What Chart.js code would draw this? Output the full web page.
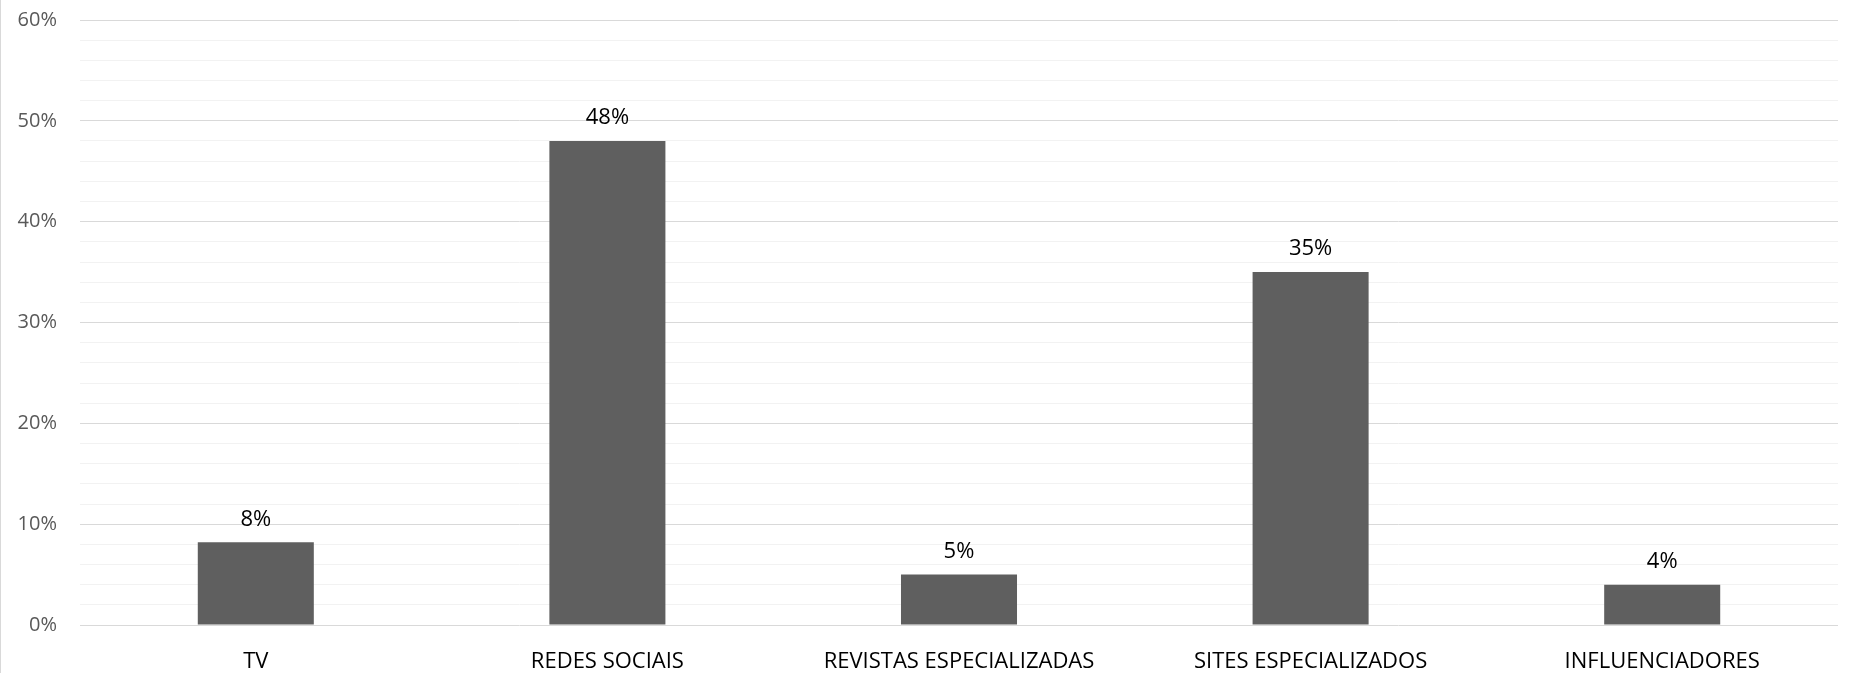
<!DOCTYPE html>
<html>
<head>
<meta charset="utf-8">
<script src="https://cdn.jsdelivr.net/npm/chart.js@4.4.0/dist/chart.umd.min.js"></script>
<style>
    html, body { margin: 0; padding: 0; background: #fff; }
    #box { position: relative; width: 1851px; height: 673px; border-left: 1px solid #d9d9d9; }
</style>
</head>
<body>
<div id="box"><canvas id="grafico"></canvas></div>
<script>
// dados
const categorias = ["TV", "REDES SOCIAIS", "REVISTAS ESPECIALIZADAS", "SITES ESPECIALIZADOS", "INFLUENCIADORES"];
const percentuais = [8.2, 48, 5, 35, 4];
const eixoY = [0, 10, 20, 30, 40, 50, 60];

const fonte = "'Open Sans', 'Noto Sans', sans-serif";

// rótulos em cima das barras
const rotulosBarras = {
    id: "rotulosBarras",
    afterDatasetsDraw(chart) {
        const ctx = chart.ctx;
        const meta = chart.getDatasetMeta(0);
        ctx.save();
        ctx.font = "22px " + fonte;
        ctx.fillStyle = "#000";
        ctx.textAlign = "center";
        ctx.textBaseline = "bottom";
        meta.data.forEach((bar, i) => {
            ctx.fillText(Math.round(percentuais[i]) + "%", bar.x, bar.y - 12);
        });
        ctx.restore();
    }
};

new Chart(document.getElementById("grafico"), {
    type: "bar",
    data: {
        labels: categorias,
        datasets: [{
            data: percentuais,
            backgroundColor: "#5f5f5f",
            borderWidth: 0,
            categoryPercentage: 1,
            barPercentage: 0.33
        }]
    },
    options: {
        responsive: true,
        maintainAspectRatio: false,
        animation: false,
        layout: { padding: { top: 0, right: 14, bottom: 0, left: 0 } },
        plugins: { legend: { display: false }, tooltip: { enabled: false } },
        scales: {
            x: {
                grid: { display: false, drawTicks: false },
                border: { display: false },
                ticks: { color: "#000", font: { family: fonte, size: 22 }, padding: 24, maxRotation: 0 },
                afterFit: (s) => { s.height = 48; }
            },
            y: {
                min: eixoY[0],
                max: eixoY[eixoY.length - 1],
                border: { display: false },
                grid: {
                    drawTicks: false,
                    color: (c) => (c.tick && c.tick.value % 10 === 0) ? "#d9d9d9" : "#f2f2f2",
                    lineWidth: 1
                },
                ticks: {
                    stepSize: 2,
                    autoSkip: false,
                    padding: 23,
                    color: "#595959",
                    font: { family: fonte, size: 20 },
                    callback: (v) => eixoY.includes(v) ? v + "%" : ""
                },
                afterFit: (s) => { s.width = 79; s.paddingTop = 20; }
            }
        }
    },
    plugins: [rotulosBarras]
});
</script>
</body>
</html>
